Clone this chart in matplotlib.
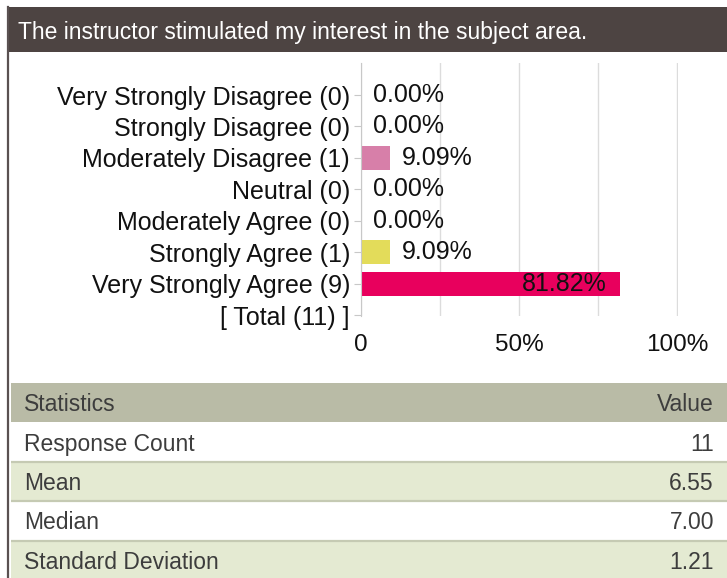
import matplotlib.pyplot as plt
from matplotlib.patches import Rectangle
from matplotlib.lines import Line2D
from matplotlib import font_manager

W, H = 727, 578

title = "The instructor stimulated my interest in the subject area."
categories = [
    "Very Strongly Disagree",
    "Strongly Disagree",
    "Moderately Disagree",
    "Neutral",
    "Moderately Agree",
    "Strongly Agree",
    "Very Strongly Agree",
]
counts = [0, 0, 1, 0, 0, 1, 9]
percents = [0.00, 0.00, 9.09, 0.00, 0.00, 9.09, 81.82]
total = 11
x_ticks = [0, 50, 100]
x_ticklabels = ["0", "50%", "100%"]
x_grid = [0, 25, 50, 75, 100]

stat_header = ["Statistics", "Value"]
stat_names = ["Response Count", "Mean", "Median", "Standard Deviation"]
stat_values = ["11", "6.55", "7.00", "1.21"]

bar_colors = ["#d9d9d9", "#d9d9d9", "#d77fa9", "#d9d9d9", "#d9d9d9", "#e3dc5a", "#e8005d"]

# narrow font for the title bar and the table, if installed
names = {f.name for f in font_manager.fontManager.ttflist}
narrow = "Liberation Sans Narrow" if "Liberation Sans Narrow" in names else "Liberation Sans"
plt.rcParams["font.family"] = ["Liberation Sans", "DejaVu Sans"]


def fx(px):
    return px / W


def fy(py):
    return 1 - py / H


fig = plt.figure(figsize=(W / 100, H / 100), dpi=100)
fig.patch.set_facecolor("white")

# title bar and left border
fig.add_artist(Rectangle((fx(7), fy(52)), fx(W) - fx(7), fy(7) - fy(52),
                         transform=fig.transFigure, color="#4d4442", lw=0))
fig.add_artist(Line2D([fx(8), fx(8)], [fy(7), 0], transform=fig.transFigure,
                      color="#5a5151", lw=1.6))
fig.text(fx(18), fy(33), title, color="white", fontsize=16.5, family=narrow,
         va="center", ha="left")

# bar chart
ax = fig.add_axes([fx(361), fy(316), fx(678) - fx(361), fy(63) - fy(316)])
labels = [f"{c} ({n})" for c, n in zip(categories, counts)] + [f"[ Total ({total}) ]"]
ys = list(range(len(categories)))
ax.barh(ys, percents, height=0.77, color=bar_colors, zorder=3)
for y, p in zip(ys, percents):
    if p > 50:
        ax.annotate(f"{p:.2f}%", (p, y), xytext=(-13, 0), textcoords="offset pixels",
                    ha="right", va="center", fontsize=18, color="#111111", zorder=4)
    else:
        ax.annotate(f"{p:.2f}%", (p, y), xytext=(12, 0), textcoords="offset pixels",
                    ha="left", va="center", fontsize=18, color="#111111", zorder=4)

ax.set_yticks(list(range(len(labels))))
ax.set_yticklabels(labels, fontsize=18, color="#111111")
ax.set_ylim(7.03, -1.02)
ax.set_xlim(0, 100.2)
ax.set_xticks(x_ticks)
ax.set_xticklabels(x_ticklabels, fontsize=17.5, color="#111111")
ax.set_xticks(x_grid, minor=True)
ax.tick_params(axis="x", which="both", length=0, pad=13)
ax.tick_params(axis="y", length=5, width=0.8, color="#c8c8c8", pad=3)
ax.grid(axis="x", which="both", color="#dcdcdc", lw=1, zorder=0)
for s in ["top", "right", "bottom"]:
    ax.spines[s].set_visible(False)
ax.spines["left"].set_color("#c8c8c8")
ax.spines["left"].set_zorder(5)

# statistics table
tab = fig.add_axes([fx(11), fy(580), 1 - fx(11), fy(383) - fy(580)])
rows = [stat_header] + [[n, v] for n, v in zip(stat_names, stat_values)]
tab.set_xlim(0, 1)
tab.set_ylim(len(rows), 0)
tab.axis("off")
row_bg = ["#b9bba6", "white", "#e4ead2", "white", "#e4ead2"]
for i, (name, val) in enumerate(rows):
    tab.axhspan(i, i + 1, color=row_bg[i], lw=0)
    tab.text(13 / (W - 11), i + 0.55, name, fontsize=16.5, family=narrow,
             color="#3d3d3d", va="center", ha="left")
    tab.text(1 - 13 / (W - 11), i + 0.55, val, fontsize=16.5, family=narrow,
             color="#3d3d3d", va="center", ha="right")
    if i >= 2:
        tab.axhline(i, color="#c5cab3", lw=1.6)

fig.savefig("out.png", dpi=100)
